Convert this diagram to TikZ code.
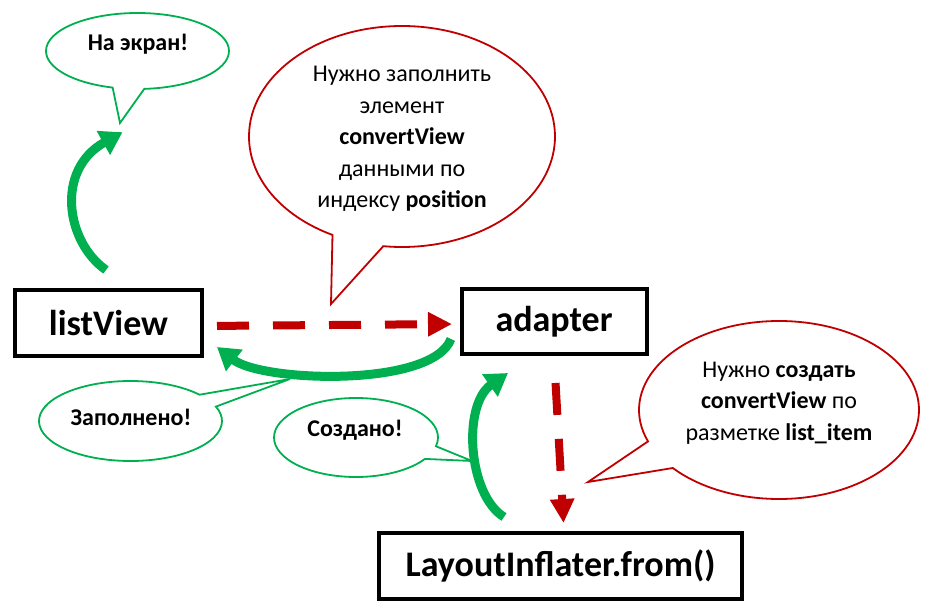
\documentclass[tikz,border=0pt]{standalone}
\usepackage{fontspec}
\setmainfont{Carlito}
\usetikzlibrary{shapes.callouts,arrows.meta}
\definecolor{darkred}{HTML}{C00000}
\definecolor{grass}{HTML}{00B050}

\begin{document}
\begin{tikzpicture}[x=1pt,y=-1pt,
  box/.style={draw,line width=4pt,inner sep=0pt,font=\fontsize{36}{42}\selectfont\bfseries},
  bubble/.style={ellipse callout,draw,line width=1.8pt,fill=white,inner sep=0pt,callout pointer arc=20},
  greenbub/.style={bubble,draw=grass},
  redbub/.style={bubble,draw=darkred},
  bubtext/.style={align=center,inner sep=0pt,font=\fontsize{24}{31.5}\selectfont},
  greenarr/.style={grass,line width=9pt,-{Triangle[length=22pt,width=26pt]}},
  redarr/.style={darkred,line width=8pt,dash pattern=on 32pt off 24pt,-{Triangle[length=24pt,width=23pt]}}]
\useasboundingbox (0,0) rectangle (930,610);
\node[box,minimum width=187,minimum height=66] (lv) at (108.5,323) {listView};
\node[box,minimum width=185,minimum height=65] (ad) at (554,321.5) {adapter};
\node[box,minimum width=363,minimum height=66] (li) at (560.5,566) {LayoutInflater.from()};
% speech bubbles
\node[greenbub,minimum width=183,minimum height=76,callout absolute pointer={(120,123)}] (scr) at (137.5,51) {};
\node[bubtext,font=\fontsize{24}{31.5}\selectfont\bfseries] (scrtxt) at (138,44) {На экран!};
\node[redbub,minimum width=306,minimum height=221,callout absolute pointer={(331,304)}] (fillbub) at (402,136.5) {};
\node[bubtext] (filltxt) at (402,139) {Нужно заполнить\\элемент\\\textbf{convertView}\\данными по\\индексу \textbf{position}};
\node[greenbub,minimum width=183,minimum height=80,callout absolute pointer={(290,379)}] (done) at (130.5,421) {};
\node[bubtext,font=\fontsize{24}{31.5}\selectfont\bfseries] (donetxt) at (131,417) {Заполнено!};
\node[greenbub,minimum width=164,minimum height=79,callout absolute pointer={(472,461)}] (made) at (356,437.5) {};
\node[bubtext,font=\fontsize{24}{31.5}\selectfont\bfseries] (madetxt) at (355,430) {Создано!};
\node[redbub,minimum width=280,minimum height=178,callout absolute pointer={(588,482)}] (makebub) at (779,410) {};
\node[bubtext] (maketxt) at (779,403) {Нужно \textbf{создать}\\\textbf{convertView} по\\разметке \textbf{list\_item}};
% calls
\draw[redarr,shorten <=13pt,shorten >=7.5pt] ([yshift=-3]lv.east) -- ([yshift=-2.5]ad.west);
\draw[redarr,shorten <=27pt,shorten >=8pt] (ad.south) -- ([xshift=3.5]li.north);
% answers
\draw[greenarr] ([shift={(-8.5,17.5)}]ad.west) .. controls (432,388) and (262,382) .. ([shift={(13,24)}]lv.east);
\draw[greenarr] ([shift={(-56.5,-14)}]li.north) .. controls (468,495) and (462,405) .. ([shift={(-46,17)}]ad.south);
\draw[greenarr] ([shift={(-2.5,-18)}]lv.north) .. controls (66,242) and (55,170) .. ([shift={(3,7)}]scr.pointer);
\end{tikzpicture}
\end{document}
